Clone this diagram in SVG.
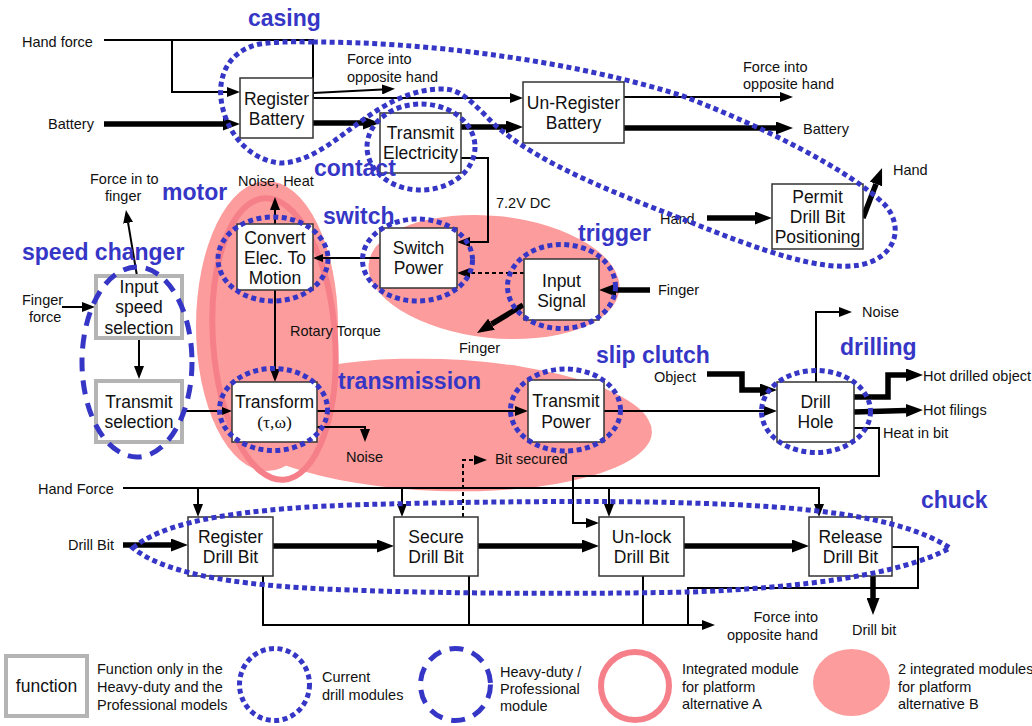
<svg xmlns="http://www.w3.org/2000/svg" width="1032" height="726" viewBox="0 0 1032 726">
<defs>
<style>
.box{fill:#fff;stroke:#333;stroke-width:1.5}
.gbox{fill:#fff;stroke:#b4b4b4;stroke-width:4}
text{font-family:"Liberation Sans",Arial,sans-serif;fill:#111}
.bt{font-size:17.5px;text-anchor:middle}
.sr{font-family:"Liberation Serif","Times New Roman",serif}
.lb{font-size:14.5px}
.end{text-anchor:end}
.bl{font-size:23px;font-weight:bold;fill:#3636c6}
.dot{fill:none;stroke:#3636c6;stroke-width:5;stroke-dasharray:5 3.5}
.dash{fill:none;stroke:#3636c6;stroke-width:5;stroke-dasharray:14 9}
.pf{fill:#fc9c9c}
.ring{fill:none;stroke:#f6808a;stroke-width:6}
.th{fill:none;stroke:#000;stroke-width:2}
.ds{fill:none;stroke:#000;stroke-width:2;stroke-dasharray:4 3}
.tk{fill:none;stroke:#000;stroke-width:5.5}
</style>
<marker id="a" markerUnits="userSpaceOnUse" markerWidth="13" markerHeight="10" refX="0" refY="5" orient="auto" viewBox="0 0 13 10"><path d="M0,0 L13,5 L0,10 z" fill="#000"/></marker>
<marker id="s" markerUnits="userSpaceOnUse" markerWidth="10" markerHeight="8" refX="0" refY="4" orient="auto" viewBox="0 0 10 8"><path d="M0,0 L10,4 L0,8 z" fill="#000"/></marker>
<marker id="t" markerUnits="userSpaceOnUse" markerWidth="17" markerHeight="13" refX="0" refY="6.5" orient="auto" viewBox="0 0 17 13"><path d="M0,0 L17,6.5 L0,13 z" fill="#000"/></marker>
</defs>
<rect width="1032" height="726" fill="#fff"/>

<g id="platform-b">
<ellipse class="pf" cx="267" cy="326" rx="71" ry="145"/>
<ellipse class="pf" cx="494" cy="277" rx="126" ry="61" transform="rotate(6 494 277)"/>
<ellipse class="pf" cx="440" cy="425" rx="212" ry="66" transform="rotate(2 440 425)"/>
</g>
<g id="platform-a">
<ellipse class="ring" cx="274" cy="339" rx="61" ry="141" transform="rotate(-4 274 339)"/>
</g>

<g id="connectors">
<path class="th" d="M104,40 H313 V98 H510" marker-end="url(#a)"/>
<path class="th" d="M172,40 V92 H227" marker-end="url(#a)"/>
<path class="th" d="M313,93 L382,89.5" marker-end="url(#a)"/>
<path class="th" d="M624,97 H780" marker-end="url(#a)"/>
<path class="th" d="M461,158 H488 V242 H470" marker-end="url(#a)"/>
<path class="th" d="M380,258 H323" marker-end="url(#s)"/>
<path class="ds" d="M524,273 H470" marker-end="url(#a)"/>
<path class="th" d="M275,224 V210" marker-end="url(#a)"/>
<path class="th" d="M275,290 V369" marker-end="url(#a)"/>
<path class="th" d="M137,276 L128.1,222.8" marker-end="url(#a)"/>
<path class="th" d="M62,307 H82" marker-end="url(#a)"/>
<path class="th" d="M139,340 V366" marker-end="url(#a)"/>
<path class="th" d="M184,411 H222" marker-end="url(#s)"/>
<path class="th" d="M317,411 H515" marker-end="url(#a)"/>
<path class="th" d="M604,411 H764" marker-end="url(#a)"/>
<path class="th" d="M317,427 H365 V429" marker-end="url(#a)"/>
<path class="ds" d="M463,517 V460 H474" marker-end="url(#a)"/>
<path class="th" d="M816,382 V312 H839" marker-end="url(#a)"/>
<path class="th" d="M854,428 H879 V476 H573 V523 H586" marker-end="url(#a)"/>
<path class="th" d="M123,488 H819 V504" marker-end="url(#a)"/>
<path class="th" d="M198,488 V504" marker-end="url(#a)"/>
<path class="th" d="M402,488 V504" marker-end="url(#a)"/>
<path class="th" d="M609,488 V504" marker-end="url(#a)"/>
<path class="th" d="M263,576 V625 H702" marker-end="url(#a)"/>
<path class="th" d="M469,576 V625"/>
<path class="th" d="M643,576 V625"/>
<path class="th" d="M892,547 H918 V588 H688 V625"/>
<path class="tk" d="M104,124 H223" marker-end="url(#t)"/>
<path class="tk" d="M313,123 H363" marker-end="url(#t)"/>
<path class="tk" d="M461,127 H506" marker-end="url(#t)"/>
<path class="tk" d="M624,128 H776" marker-end="url(#t)"/>
<path class="tk" d="M707,218 H755" marker-end="url(#t)"/>
<path class="tk" d="M863,218 L876,184" marker-end="url(#t)"/>
<path class="tk" d="M650,290 H616" marker-end="url(#t)"/>
<path class="tk" d="M523,305 L491.5,324.2" marker-end="url(#t)"/>
<path class="tk" d="M707,374 H742 V390 H760" marker-end="url(#t)"/>
<path class="tk" d="M854,397 H888 V375 H906" marker-end="url(#t)"/>
<path class="tk" d="M854,412 L906,410.5" marker-end="url(#t)"/>
<path class="tk" d="M123,545 H171" marker-end="url(#t)"/>
<path class="tk" d="M273,546 H377" marker-end="url(#t)"/>
<path class="tk" d="M478,546 H582" marker-end="url(#t)"/>
<path class="tk" d="M684,546 H792" marker-end="url(#t)"/>
<path class="tk" d="M873,576 V598" marker-end="url(#t)"/>
<g class="lb">
<text x="22" y="47">Hand force</text>
<text x="347" y="64">Force into</text>
<text x="347" y="82">opposite hand</text>
<text x="48" y="129">Battery</text>
<text x="743" y="72">Force into</text>
<text x="743" y="89">opposite hand</text>
<text x="803" y="134">Battery</text>
<text x="893" y="175">Hand</text>
<text x="660" y="224">Hand</text>
<text x="496" y="208">7.2V DC</text>
<text x="238" y="186">Noise, Heat</text>
<text x="90" y="184">Force in to</text>
<text x="105" y="201">finger</text>
<text x="22" y="305">Finger</text>
<text x="29" y="322">force</text>
<text x="290" y="336">Rotary Torque</text>
<text x="658" y="295">Finger</text>
<text x="459" y="353">Finger</text>
<text x="862" y="317">Noise</text>
<text x="654" y="382">Object</text>
<text x="923" y="381">Hot drilled object</text>
<text x="923" y="415">Hot filings</text>
<text x="883" y="438">Heat in bit</text>
<text x="346" y="462">Noise</text>
<text x="495" y="464">Bit secured</text>
<text x="38" y="494">Hand Force</text>
<text x="68" y="550">Drill Bit</text>
<text class="end" x="818" y="622">Force into</text>
<text class="end" x="818" y="640">opposite hand</text>
<text x="852" y="635">Drill bit</text>
</g>
</g>

<g id="register-battery"><rect class="box" x="240" y="78" width="73" height="60"/><text class="bt" x="276.5" y="105">Register</text><text class="bt" x="276.5" y="125">Battery</text></g>
<g id="transmit-electricity"><rect class="box" x="380" y="113" width="81" height="60"/><text class="bt" x="420.5" y="139">Transmit</text><text class="bt" x="420.5" y="159">Electricity</text></g>
<g id="unregister-battery"><rect class="box" x="523" y="82" width="101" height="61"/><text class="bt" x="573.5" y="109">Un-Register</text><text class="bt" x="573.5" y="129">Battery</text></g>
<g id="permit-drill-bit"><rect class="box" x="772" y="184" width="91" height="65"/><text class="bt" x="817.5" y="203">Permit</text><text class="bt" x="817.5" y="223">Drill Bit</text><text class="bt" x="817.5" y="243">Positioning</text></g>
<g id="convert-elec"><rect class="box" x="237" y="224" width="76" height="66"/><text class="bt" x="275" y="244">Convert</text><text class="bt" x="275" y="264">Elec. To</text><text class="bt" x="275" y="284">Motion</text></g>
<g id="switch-power"><rect class="box" x="380" y="228" width="77" height="60"/><text class="bt" x="418.5" y="254">Switch</text><text class="bt" x="418.5" y="274">Power</text></g>
<g id="input-signal"><rect class="box" x="524" y="259" width="75" height="61"/><text class="bt" x="561.5" y="287">Input</text><text class="bt" x="561.5" y="307">Signal</text></g>
<g id="input-speed-selection"><rect class="gbox" x="96" y="276" width="86" height="62"/><text class="bt" x="139" y="293">Input</text><text class="bt" x="139" y="313">speed</text><text class="bt" x="139" y="334">selection</text></g>
<g id="transmit-selection"><rect class="gbox" x="96" y="381" width="86" height="61"/><text class="bt" x="139" y="408">Transmit</text><text class="bt" x="139" y="428">selection</text></g>
<g id="transform"><rect class="box" x="232" y="382" width="85" height="60"/><text class="bt" x="274.5" y="408">Transform</text><text class="bt sr" x="274.5" y="428">(τ,ω)</text></g>
<g id="transmit-power"><rect class="box" x="528" y="380" width="76" height="62"/><text class="bt" x="566" y="407">Transmit</text><text class="bt" x="566" y="428">Power</text></g>
<g id="drill-hole"><rect class="box" x="777" y="382" width="77" height="60"/><text class="bt" x="815.5" y="408">Drill</text><text class="bt" x="815.5" y="428">Hole</text></g>
<g id="register-drill-bit"><rect class="box" x="188" y="517" width="85" height="59"/><text class="bt" x="230.5" y="543">Register</text><text class="bt" x="230.5" y="563">Drill Bit</text></g>
<g id="secure-drill-bit"><rect class="box" x="394" y="517" width="84" height="59"/><text class="bt" x="436" y="543">Secure</text><text class="bt" x="436" y="563">Drill Bit</text></g>
<g id="unlock-drill-bit"><rect class="box" x="599" y="517" width="85" height="59"/><text class="bt" x="641.5" y="543">Un-lock</text><text class="bt" x="641.5" y="563">Drill Bit</text></g>
<g id="release-drill-bit"><rect class="box" x="809" y="517" width="83" height="59"/><text class="bt" x="850.5" y="543">Release</text><text class="bt" x="850.5" y="563">Drill Bit</text></g>

<g id="modules">
<path class="dot" d="M313,42 C420,42 560,58 680,95 C760,125 850,170 885,205 C905,228 895,258 860,265 C820,272 760,250 690,222 C620,195 540,165 495,125 C470,100 460,88 440,89 C400,90 370,115 345,133 C320,152 300,163 280,163 C250,160 228,135 222,105 C216,75 230,50 260,44 C280,41 300,42 313,42 Z"/>
<ellipse class="dot" cx="421" cy="147" rx="54" ry="43"/>
<ellipse class="dot" cx="273" cy="259" rx="55" ry="42"/>
<ellipse class="dot" cx="417.5" cy="260" rx="55" ry="41"/>
<ellipse class="dot" cx="561.5" cy="286.5" rx="54" ry="42"/>
<ellipse class="dot" cx="273.5" cy="409.5" rx="54" ry="41"/>
<ellipse class="dot" cx="565.5" cy="410" rx="55" ry="41"/>
<ellipse class="dot" cx="816" cy="411.5" rx="54.5" ry="41"/>
<path class="dot" d="M133,548 C160,525 220,510 350,505 C450,502 600,500 690,503 C800,506 900,515 950,548 C900,575 800,588 690,592 C600,594 450,594 350,590 C220,586 160,570 133,548 Z"/>
<ellipse class="dash" cx="137" cy="362" rx="55" ry="95"/>
</g>

<g id="module-labels">
<text class="bl" x="248" y="26">casing</text>
<text class="bl" x="314" y="176">contact</text>
<text class="bl" x="162" y="200">motor</text>
<text class="bl" x="323" y="224">switch</text>
<text class="bl" x="22" y="260">speed changer</text>
<text class="bl" x="578" y="241">trigger</text>
<text class="bl" x="596" y="363">slip clutch</text>
<text class="bl" x="840" y="355">drilling</text>
<text class="bl" x="338" y="389">transmission</text>
<text class="bl" x="921" y="508">chuck</text>
</g>

<g id="legend">
<rect class="gbox" x="6" y="656" width="81" height="60"/>
<text class="bt" x="46.5" y="692">function</text>
<text class="lb" x="97" y="674">Function only in the</text>
<text class="lb" x="97" y="692">Heavy-duty and the</text>
<text class="lb" x="97" y="710">Professional models</text>
<ellipse class="dot" cx="274.5" cy="684.5" rx="35" ry="36"/>
<text class="lb" x="322" y="682">Current</text>
<text class="lb" x="322" y="700">drill modules</text>
<ellipse class="dash" cx="455.5" cy="684.5" rx="35" ry="36"/>
<text class="lb" x="500" y="677">Heavy-duty /</text>
<text class="lb" x="500" y="694">Professional</text>
<text class="lb" x="500" y="711">module</text>
<ellipse class="ring" cx="635" cy="686" rx="34" ry="34"/>
<text class="lb" x="682" y="674">Integrated module</text>
<text class="lb" x="682" y="692">for platform</text>
<text class="lb" x="682" y="709">alternative A</text>
<ellipse class="pf" cx="851.5" cy="682.5" rx="38.5" ry="33.5"/>
<text class="lb" x="898" y="674">2 integrated modules</text>
<text class="lb" x="898" y="692">for platform</text>
<text class="lb" x="898" y="709">alternative B</text>
</g>
</svg>
